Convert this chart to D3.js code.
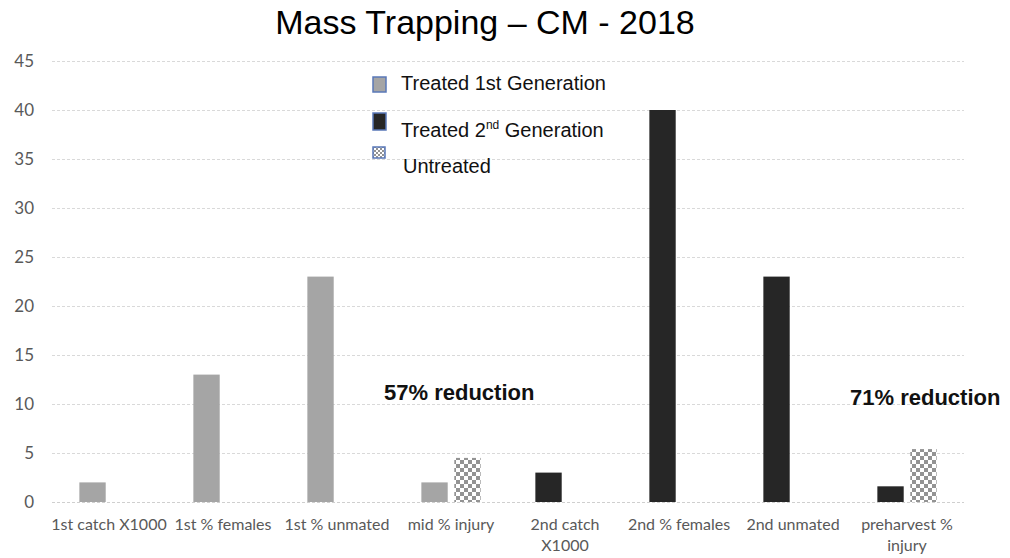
<!DOCTYPE html>
<html lang="en">
	<head>
		<meta charset="utf-8">
		<title>Mass Trapping - CM - 2018</title>
		<script type="text/javascript" src="https://d3js.org/d3.v7.min.js"></script>
		<style type="text/css">
			body { margin: 0; background: #fff; }
			text { font-family: "Liberation Sans", Arial, sans-serif; }
			text.cal { font-family: Lato, "Open Sans", sans-serif; }
		</style>
	</head>
	<body>
		<script type="text/javascript">

			//Data
			var categories = ["1st catch X1000", "1st % females", "1st % unmated", "mid % injury",
				"2nd catch X1000", "2nd % females", "2nd unmated", "preharvest % injury"];
			var treated = [2, 13, 23, 2, 3, 40, 23, 1.6];
			var generation = ["1st", "1st", "1st", "1st", "2nd", "2nd", "2nd", "2nd"];
			var untreated = [null, null, null, 4.5, null, null, null, 5.4];
			var yTicks = [0, 5, 10, 15, 20, 25, 30, 35, 40, 45];
			var notes = ["57% reduction", "71% reduction"];

			//Width and height
			var w = 1010;
			var h = 558;
			var plotL = 52, plotR = 964, plotT = 61, plotB = 502;

			var svg = d3.select("body")
				.append("svg")
				.attr("width", w)
				.attr("height", h);

			//Checker pattern for untreated
			var defs = svg.append("defs");
			var pat = defs.append("pattern")
				.attr("id", "checker")
				.attr("width", 8).attr("height", 8)
				.attr("patternUnits", "userSpaceOnUse");
			pat.append("rect").attr("width", 8).attr("height", 8).attr("fill", "#fff");
			pat.append("rect").attr("width", 4).attr("height", 4).attr("fill", "#939393");
			pat.append("rect").attr("x", 4).attr("y", 4).attr("width", 4).attr("height", 4).attr("fill", "#939393");

			var smallPat = defs.append("pattern")
				.attr("id", "checkerSmall")
				.attr("width", 4).attr("height", 4)
				.attr("patternUnits", "userSpaceOnUse");
			smallPat.append("rect").attr("width", 4).attr("height", 4).attr("fill", "#fff");
			smallPat.append("rect").attr("width", 2).attr("height", 2).attr("fill", "#939393");
			smallPat.append("rect").attr("x", 2).attr("y", 2).attr("width", 2).attr("height", 2).attr("fill", "#939393");

			//Scales
			var x = d3.scaleBand().domain(categories).range([plotL, plotR]);
			var xs = d3.scaleBand().domain(["treated", "untreated"])
				.range([x.bandwidth() * 0.24, x.bandwidth() * 0.76])
				.paddingInner(0.2);
			var y = d3.scaleLinear().domain([0, 45]).range([plotB, plotT]);

			var genColor = { "1st": "#a5a5a5", "2nd": "#262626" };

			//Grid
			svg.append("g")
				.selectAll("line")
				.data(yTicks)
				.enter()
				.append("line")
				.attr("x1", plotL).attr("x2", plotR)
				.attr("y1", function(d) { return y(d) + 0.5; })
				.attr("y2", function(d) { return y(d) + 0.5; })
				.attr("stroke", function(d) { return d === 0 ? "#cfcfcf" : "#d9d9d9"; })
				.attr("stroke-dasharray", "3,2");

			//Y axis labels
			var yAxis = d3.axisLeft(y).tickValues(yTicks).tickSize(0).tickPadding(0);
			var ga = svg.append("g")
				.attr("transform", "translate(34,0)")
				.call(yAxis);
			ga.select(".domain").remove();
			ga.selectAll("text")
				.attr("class", "cal")
				.attr("font-size", 17)
				.attr("fill", "#595959");

			//Bars
			svg.append("g")
				.selectAll("rect")
				.data(categories)
				.enter()
				.append("rect")
				.attr("x", function(d) { return x(d) + xs("treated"); })
				.attr("width", xs.bandwidth())
				.attr("y", function(d, i) { return y(treated[i]); })
				.attr("height", function(d, i) { return y(0) - y(treated[i]); })
				.attr("fill", function(d, i) { return genColor[generation[i]]; });

			svg.append("g")
				.selectAll("rect")
				.data(categories.filter(function(d, i) { return untreated[i] != null; }))
				.enter()
				.append("rect")
				.attr("x", function(d) { return x(d) + xs("untreated"); })
				.attr("width", xs.bandwidth())
				.attr("y", function(d) { return y(untreated[categories.indexOf(d)]); })
				.attr("height", function(d) { return y(0) - y(untreated[categories.indexOf(d)]); })
				.attr("fill", "url(#checker)");

			//X labels (wrapped)
			var xl = svg.append("g")
				.selectAll("text")
				.data(categories)
				.enter()
				.append("text")
				.attr("class", "cal")
				.attr("text-anchor", "middle")
				.attr("font-size", 16)
				.attr("fill", "#595959");
			xl.each(function(d) {
				var lines = d === "2nd catch X1000" ? ["2nd catch", "X1000"]
					: d === "preharvest % injury" ? ["preharvest %", "injury"] : [d];
				var t = d3.select(this);
				lines.forEach(function(l, k) {
					t.append("tspan")
						.attr("x", x(d) + x.bandwidth() / 2)
						.attr("y", 530 + k * 21)
						.text(l);
				});
			});

			//Title
			svg.append("text")
				.attr("x", 485).attr("y", 34)
				.attr("text-anchor", "middle")
				.attr("font-size", 34)
				.attr("fill", "#000")
				.text("Mass Trapping \u2013 CM - 2018");

			//Legend
			var legend = [
				{ fill: genColor["1st"], box: [373, 77, 13, 15], tx: 401, ty: 90, label: "Treated 1st Generation", sup: null },
				{ fill: genColor["2nd"], box: [373, 113, 13, 17], tx: 401, ty: 137, label: "Treated 2", sup: "nd" },
				{ fill: "url(#checkerSmall)", box: [373, 147, 12, 11], tx: 403, ty: 173, label: "Untreated", sup: null }
			];
			var lg = svg.append("g");
			legend.forEach(function(l) {
				lg.append("rect")
					.attr("x", l.box[0]).attr("y", l.box[1])
					.attr("width", l.box[2]).attr("height", l.box[3])
					.attr("fill", l.fill)
					.attr("stroke", "#5a78b8").attr("stroke-width", 1.5);
				var t = lg.append("text")
					.attr("x", l.tx).attr("y", l.ty)
					.attr("font-size", 20)
					.attr("fill", "#111");
				t.append("tspan").text(l.label);
				if (l.sup) {
					t.append("tspan").attr("font-size", 12).attr("dy", -8).text(l.sup);
					t.append("tspan").attr("dy", 8).text(" Generation");
				}
			});

			//Reduction notes
			svg.append("g")
				.selectAll("text")
				.data(notes)
				.enter()
				.append("text")
				.attr("x", function(d, i) { return i === 0 ? 384 : 850; })
				.attr("y", function(d, i) { return i === 0 ? 400 : 405; })
				.attr("font-size", 22)
				.attr("font-weight", "bold")
				.attr("fill", "#111")
				.text(function(d) { return d; });

		</script>
	</body>
</html>
